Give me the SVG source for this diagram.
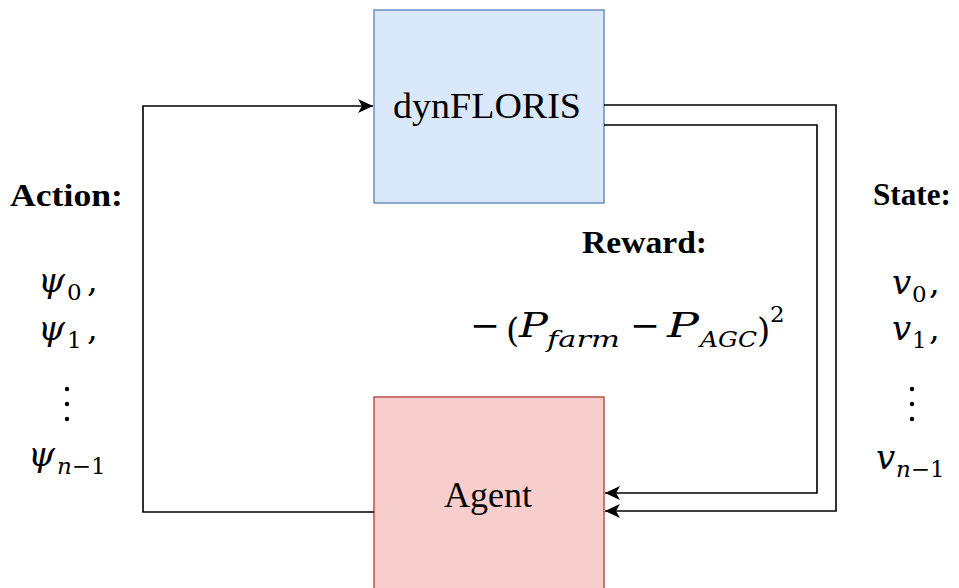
<svg xmlns="http://www.w3.org/2000/svg" width="959" height="588" viewBox="0 0 959 588">
  <style>
    .box-env { fill: #dae8fc; stroke: #6c8ebf; stroke-width: 1.5; }
    .box-agent { fill: #f8cecc; stroke: #b85450; stroke-width: 1.5; }
    .wire { fill: none; stroke: #000; stroke-width: 1.6; }
    .lbl { font-family: "Liberation Serif", "Times New Roman", serif; fill: #000; }
    .node-lbl { font-size: 36px; text-anchor: middle; }
    .head { font-size: 31px; font-weight: bold; }
    .m { font-family: "DejaVu Serif", serif; font-size: 34px; font-style: italic; }
    .ms { font-family: "DejaVu Serif", serif; font-size: 23px; font-style: italic; }
    .u { font-style: normal; }
  </style>
  <defs>
    <marker id="arrow" markerUnits="userSpaceOnUse" markerWidth="16" markerHeight="16" refX="15" refY="7" orient="auto">
      <path d="M0,0 L15,7 L0,14 L4,7 Z" fill="#000"/>
    </marker>
  </defs>

  <!-- environment -->
  <g id="dynfloris">
    <rect class="box-env" x="374" y="10" width="230" height="193"/>
    <text class="lbl node-lbl" x="487" y="118" textLength="188" lengthAdjust="spacingAndGlyphs">dynFLORIS</text>
  </g>

  <!-- agent -->
  <g id="agent">
    <rect class="box-agent" x="374" y="397" width="230" height="200"/>
    <text class="lbl node-lbl" x="488" y="507">Agent</text>
  </g>

  <!-- connectors -->
  <g id="connectors">
    <path class="wire" d="M374,512 H143 V106 H373" marker-end="url(#arrow)"/>
    <path class="wire" d="M604,105 H836 V511 H605" marker-end="url(#arrow)"/>
    <path class="wire" d="M604,125 H817 V493 H605" marker-end="url(#arrow)"/>
  </g>

  <!-- action labels -->
  <g id="action">
    <text class="lbl head" x="10" y="206" textLength="113" lengthAdjust="spacingAndGlyphs">Action:</text>
    <text class="m" x="38" y="292" textLength="27" lengthAdjust="spacingAndGlyphs">ψ</text>
    <text class="ms u" x="67" y="300">0</text>
    <text class="m u" x="87" y="292">,</text>
    <text class="m" x="38" y="340" textLength="27" lengthAdjust="spacingAndGlyphs">ψ</text>
    <text class="ms u" x="67" y="348">1</text>
    <text class="m u" x="87" y="340">,</text>
    <g fill="#000">
      <circle cx="67" cy="389" r="2.2"/>
      <circle cx="67" cy="404" r="2.2"/>
      <circle cx="67" cy="419" r="2.2"/>
    </g>
    <text class="m" x="28" y="466" textLength="27" lengthAdjust="spacingAndGlyphs">ψ</text>
    <text class="ms" x="57" y="474">n<tspan class="u">−1</tspan></text>
  </g>

  <!-- state labels -->
  <g id="state">
    <text class="lbl head" x="873" y="205" textLength="78" lengthAdjust="spacingAndGlyphs">State:</text>
    <text class="m" x="892" y="294">v</text>
    <text class="ms u" x="912" y="302">0</text>
    <text class="m u" x="929" y="294">,</text>
    <text class="m" x="892" y="340">v</text>
    <text class="ms u" x="912" y="348">1</text>
    <text class="m u" x="929" y="340">,</text>
    <g fill="#000">
      <circle cx="912" cy="389" r="2.2"/>
      <circle cx="912" cy="404" r="2.2"/>
      <circle cx="912" cy="419" r="2.2"/>
    </g>
    <text class="m" x="876" y="469">v</text>
    <text class="ms" x="896" y="477">n<tspan class="u">−1</tspan></text>
  </g>

  <!-- reward labels -->
  <g id="reward">
    <text class="lbl head" x="582" y="253" textLength="125" lengthAdjust="spacingAndGlyphs">Reward:</text>
    <text class="m u" x="470" y="337" textLength="30" lengthAdjust="spacingAndGlyphs">−</text>
    <text class="m u" x="506" y="342" font-size="40">(</text>
    <text class="m" x="519" y="337" textLength="29" lengthAdjust="spacingAndGlyphs">P</text>
    <text class="ms" x="547" y="347" textLength="73" lengthAdjust="spacingAndGlyphs">farm</text>
    <text class="m u" x="630" y="337" textLength="30" lengthAdjust="spacingAndGlyphs">−</text>
    <text class="m" x="667" y="337" textLength="32" lengthAdjust="spacingAndGlyphs">P</text>
    <text class="ms" x="700" y="347" textLength="57" lengthAdjust="spacingAndGlyphs">AGC</text>
    <text class="m u" x="757" y="342" font-size="40">)</text>
    <text class="ms u" x="770" y="322">2</text>
  </g>
</svg>
